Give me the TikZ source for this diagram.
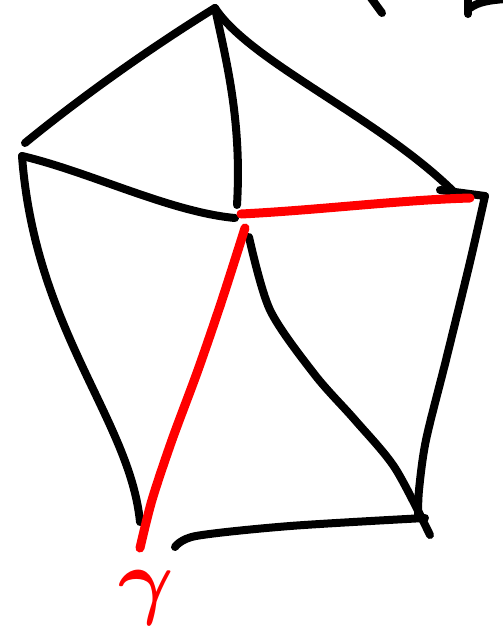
\documentclass[tikz,border=0pt]{standalone}
\usepackage{amsmath}
\begin{document}
\begin{tikzpicture}[x=1pt,y=-1pt,line cap=round,line join=round,
  blk/.style={line width=8pt,black},
  redline/.style={line width=9pt,red}]
\useasboundingbox (0,0) rectangle (503,633);
% vertices
\coordinate (A) at (215,8);
\coordinate (L1) at (25,143);
\coordinate (L) at (22,156);
\coordinate (C1) at (237,205);
\coordinate (C2) at (235,218);
\coordinate (C3) at (249,237);
\coordinate (Rt) at (455,193);
\coordinate (R) at (485,196);
\coordinate (BR) at (430,535);
\coordinate (BR2) at (418,518);
\coordinate (BL) at (140,522);
\coordinate (Bs) at (175,547);
\coordinate (Be) at (425,518);
\coordinate (Rs) at (241,214);
\coordinate (Re) at (470,198);
\coordinate (Ds) at (245,228);
\coordinate (De) at (140,548);
% black edges
\draw[blk] (A) .. controls (150,48) and (80,98) .. (L1);
\draw[blk] (A) .. controls (226,60) and (242,120) .. (C1);
\draw[blk] (A) .. controls (250,62) and (380,118) .. (Rt);
\draw[blk] (L) .. controls (90,172) and (170,212) .. (C2);
\draw[blk] (L) .. controls (35,330) and (130,420) .. (BL);
\draw[blk] plot[smooth] coordinates {(C3) (270,310) (315,375) (355,420) (395,468) (BR)};
\draw[blk] plot[smooth] coordinates {(R) (470,262) (446,360) (426,440) (419,490) (BR2)};
\draw[blk] plot[smooth] coordinates {(Bs) (196,536) (290,526) (Be)};
\draw[blk] (440,190) -- (R);
% cut-off strokes at top right
\draw[blk] (371,-2) -- (382,13);
\draw[blk] (468,-2) -- (468,14);
\draw[blk] (470,8) .. controls (478,2) and (490,0) .. (506,-1);
% red edges
\draw[redline] (Rs) .. controls (320,210) and (400,200) .. (Re);
\draw[redline] plot[smooth] coordinates {(Ds) (222,300) (198,370) (172,440) (152,500) (De)};
% label
\node[red,inner sep=0pt,scale=8.5] (gamma) at (146,598) {$\boldsymbol{\gamma}$};
\end{tikzpicture}
\end{document}
